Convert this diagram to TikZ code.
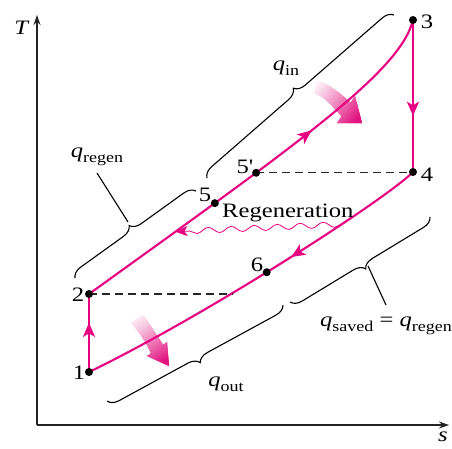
\documentclass[tikz,border=0pt]{standalone}
\usepackage{fontspec}
\setmainfont{Liberation Serif}
\usepackage{graphicx}
\usetikzlibrary{arrows.meta,decorations.pathreplacing,decorations.pathmorphing,decorations.markings}
\definecolor{mag}{RGB}{232,0,130}
\definecolor{magsh}{RGB}{226,20,128}
\definecolor{axgray}{RGB}{35,35,35}
\newcommand{\wide}[1]{\scalebox{1.2}[1]{#1}}
\newcommand{\qsub}[1]{\textit{q}\raisebox{-5pt}{\fontsize{15}{15}\selectfont #1}}
\begin{document}
\begin{tikzpicture}[x=1pt,y=-1pt,
  lab/.style={font=\fontsize{20.5}{22}\selectfont, inner sep=0pt},
  pinkline/.style={draw=mag, color=mag, line width=2.1pt},
  dot/.style={circle, fill=black, inner sep=0pt, minimum size=8pt},
  brc/.style={draw=black, line width=1.1pt, decorate, decoration={brace, amplitude=11pt}},
  brcm/.style={draw=black, line width=1.1pt, decorate, decoration={brace, mirror, amplitude=11pt}},
  dashline/.style={draw=black!85, line width=1.1pt, dash pattern=on 8pt off 5pt},
  axisline/.style={draw=axgray, line width=1.3pt, -{Stealth[length=10pt,width=7pt]}},
  midarrow/.style={postaction={decorate}, decoration={markings, mark=at position #1 with {\arrow{Stealth[length=14pt,width=12pt,inset=3.5pt]}}}},
  leader/.style={draw=black, line width=1.1pt}
]
\useasboundingbox (0,0) rectangle (452,448);

% axes
\coordinate (O) at (37,425);
\coordinate (Ttip) at (37,15);
\coordinate (Stip) at (449,425);
\draw[axisline] (O) -- (Ttip);
\draw[axisline] (O) -- (Stip);
\node[lab] (lT) at (22,28) {\wide{\textit{T}}};
\node[lab] (ls) at (443,437) {\wide{\textit{s}}};

% states
\coordinate (p1) at (89,372);
\coordinate (p2) at (89,294);
\coordinate (p3) at (413,20);
\coordinate (p4) at (413,172);

% bent shaded arrows (gradient from pale to magenta)
\begin{scope}
  \clip (317,80.5) .. controls (330,84) and (341,94) .. (350.5,102.7) -- (355,96) -- (362,123) -- (337,123) -- (341.5,116.3) .. controls (333,107) and (325,97) .. (314,93) -- cycle;
  \begin{scope}[shift={(316,87)}, rotate=-38]
    \foreach \i in {0,...,31} {
      \pgfmathsetmacro{\pc}{min(100,4+100*(\i*2/56)^1.1)}
      \fill[magsh!\pc!white] (\i*2-3,-45) rectangle (\i*2+2.2,45);
    }
  \end{scope}
\end{scope}
\begin{scope}
  \clip (143.5,314.5) .. controls (150,325) and (157,335) .. (163,344.8) -- (167,342) -- (169,366) -- (147,356) -- (151,353.2) .. controls (146,342) and (139,332) .. (130.5,322.5) -- cycle;
  \begin{scope}[shift={(137,318)}, rotate=-56]
    \foreach \i in {0,...,31} {
      \pgfmathsetmacro{\pc}{min(100,4+100*(\i*2/55)^1.1)}
      \fill[magsh!\pc!white] (\i*2-3,-45) rectangle (\i*2+2.2,45);
    }
  \end{scope}
\end{scope}

% curves
\draw[pinkline, midarrow=0.645] (p2) .. controls (300,142) and (400,72) .. (p3)
  coordinate[pos=0.225] (c5) coordinate[pos=0.315] (c5p) coordinate[pos=0.148] (wend);
\draw[pinkline, midarrow=0.39] (p4) .. controls (385,200) and (205,316) .. (p1)
  coordinate[pos=0.545] (c6) coordinate[pos=0.63] (d2) coordinate[pos=0.335] (wstart);
\draw[pinkline, midarrow=0.63] (p1) -- (p2);
\draw[pinkline, midarrow=0.63] (p3) -- (p4);

% dashed lines
\draw[dashline] (c5p) -- (c5p -| p4);
\draw[dashline] (p2) -- (p2 -| d2);

% regeneration wavy arrow
\draw[mag, line width=0.8pt, decorate, decoration={snake, amplitude=2.8pt, segment length=23pt, post length=10pt}, -{Stealth[length=12pt,width=10pt,inset=3pt]}] (wstart) -- (wend);

% dots
\node[dot] (n1) at (p1) {};
\node[dot] (n2) at (p2) {};
\node[dot] (n3) at (p3) {};
\node[dot] (n4) at (p4) {};
\node[dot] (n5) at (c5) {};
\node[dot] (n5p) at (c5p) {};
\node[dot] (n6) at (c6) {};

% point labels
\node[lab] (l1) at (79,373) {\wide{1}};
\node[lab] (l2) at (78,295) {\wide{2}};
\node[lab] (l3) at (427,22) {\wide{3}};
\node[lab] (l4) at (427,175) {\wide{4}};
\node[lab] (l5) at (205,195) {\wide{5}};
\node[lab] (l5p) at (245,167) {\wide{5\textquotesingle}};
\node[lab] (l6) at (257,265) {\wide{6}};
\node[lab, anchor=base west] (lreg) at (222,217) {\wide{Regeneration}};

% braces
\coordinate (bi1) at (207,178); \coordinate (bi2) at (394,15);
\draw[brc] (bi1) -- (bi2);
\node[lab] (lqin) at (286,68) {\wide{\qsub{in}}};

\coordinate (br1) at (75,278); \coordinate (br2) at (196,191);
\draw[brc] (br1) -- (br2);
\coordinate (brc) at (128,222); \coordinate (brl) at (97,173);
\draw[leader] (brc) -- (brl);
\node[lab] (lqregen) at (97,157) {\wide{\qsub{regen}}};

\coordinate (bs1) at (290,302); \coordinate (bs2) at (430,217);
\draw[brcm] (bs1) -- (bs2);
\coordinate (bsc) at (368,266); \coordinate (bsl) at (386,305);
\draw[leader] (bsc) -- (bsl);
\node[lab] (lqsaved) at (386,326) {\wide{\qsub{saved} = \qsub{regen}}};

\coordinate (bo1) at (107,401); \coordinate (bo2) at (283,305);
\draw[brcm] (bo1) -- (bo2);
\node[lab] (lqout) at (226,384) {\wide{\qsub{out}}};
\end{tikzpicture}
\end{document}
